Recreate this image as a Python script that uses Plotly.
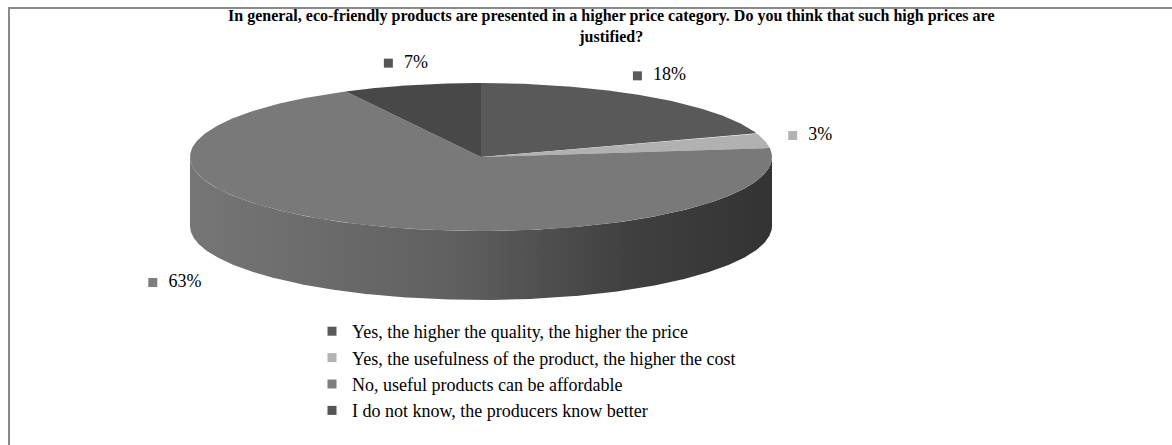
import numpy as np
import plotly.graph_objects as go

# Survey answers and their shares (as printed on the chart)
categories = [
    "Yes, the higher the quality, the higher the price",
    "Yes, the usefulness of the product, the higher the cost",
    "No, useful products can be affordable",
    "I do not know, the producers know better",
]
shares = [18, 3, 63, 7]
share_labels = ["18%", "3%", "63%", "7%"]

title_text = ("In general, eco-friendly products are presented in a higher price category. "
              "Do you think that such high prices are<br>justified?")

# Styling / geometry of the tilted pie (pixel space of the page)
W, H = 1172, 445
CX, CY = 481, 157          # centre of the top face
RX, RY = 291, 74           # radii of the top ellipse
DEPTH = 69                 # thickness of the disc
top_colors = ["#595959", "#b1b1b1", "#797979", "#484848"]
legend_colors = ["#5a5a5a", "#b3b3b3", "#7d7d7d", "#555555"]
side_scale = [[0.0, "#767676"], [0.45, "#606060"], [0.75, "#404040"], [1.0, "#333333"]]
# label square offsets (px) from the rim point at each slice's mid angle
label_offsets = [(-13, -21), (28, -5), (-193, 60), (-23, -22)]
FONT = "Liberation Serif, Times New Roman, serif"


def rim(theta_deg, drop=0.0):
    t = np.radians(theta_deg)
    return CX + RX * np.cos(t), CY - RY * np.sin(t) + drop


fig = go.Figure()

total = float(sum(shares))
start = 90.0
slices = []
for v in shares:
    span = v / total * 360.0
    slices.append((start, start - span))   # clockwise
    start -= span

# side walls (only the front half, where sin(theta) < 0, is visible)
for i, (a0, a1) in enumerate(slices):
    ts = np.linspace(a0, a1, 600)
    vis = np.sin(np.radians(ts)) < 0
    if not vis.any():
        continue
    tv = ts[vis]
    xt, yt = rim(tv)
    xb, yb = rim(tv[::-1], DEPTH)
    fig.add_trace(go.Scatter(
        x=np.concatenate([xt, xb, xt[:1]]), y=np.concatenate([yt, yb, yt[:1]]),
        mode="lines", line=dict(width=0), fill="toself",
        fillgradient=dict(type="horizontal", colorscale=side_scale, start=CX - RX, stop=CX + RX),
        hoverinfo="skip", showlegend=False))

# top faces
for i, (a0, a1) in enumerate(slices):
    ts = np.linspace(a0, a1, 300)
    x, y = rim(ts)
    fig.add_trace(go.Scatter(
        x=np.concatenate([[CX], x, [CX]]), y=np.concatenate([[CY], y, [CY]]),
        mode="lines", line=dict(width=0), fill="toself", fillcolor=top_colors[i],
        hoverinfo="skip", showlegend=False))

# data labels: small square + value
for i, (a0, a1) in enumerate(slices):
    mx, my = rim((a0 + a1) / 2.0)
    dx, dy = label_offsets[i]
    fig.add_trace(go.Scatter(
        x=[mx + dx], y=[my + dy], mode="markers+text",
        marker=dict(symbol="square", size=9, color=legend_colors[i]),
        text=["  " + share_labels[i]], textposition="middle right",
        textfont=dict(family=FONT, size=18, color="#000000"),
        hoverinfo="skip", showlegend=False))

# legend entries
for i, name in enumerate(categories):
    fig.add_trace(go.Scatter(
        x=[None], y=[None], mode="markers", name=name, legendgroup=f"g{i}",
        marker=dict(symbol="square", size=9, color=legend_colors[i])))

fig.update_layout(
    width=W, height=H,
    margin=dict(l=0, r=0, t=0, b=0),
    paper_bgcolor="white", plot_bgcolor="white",
    xaxis=dict(range=[0, W], visible=False, fixedrange=True),
    yaxis=dict(range=[H, 0], visible=False, fixedrange=True),
    annotations=[dict(text=f"<b>{title_text}</b>", x=611, y=5, xref="x", yref="y",
                      xanchor="center", yanchor="top", showarrow=False,
                      font=dict(family=FONT, size=16, color="#000000"))],
    legend=dict(x=312 / W, xanchor="left", y=1 - 313 / H, yanchor="top",
                font=dict(family=FONT, size=18, color="#000000"),
                tracegroupgap=0, bgcolor="rgba(0,0,0,0)", itemclick=False),
    shapes=[dict(type="rect", xref="x", yref="y", x0=9, y0=8, x1=W + 40, y1=H + 40,
                 line=dict(color="#8a8a8a", width=2), fillcolor="rgba(0,0,0,0)",
                 layer="below")],
    showlegend=True,
)

fig.write_html("out.html")
